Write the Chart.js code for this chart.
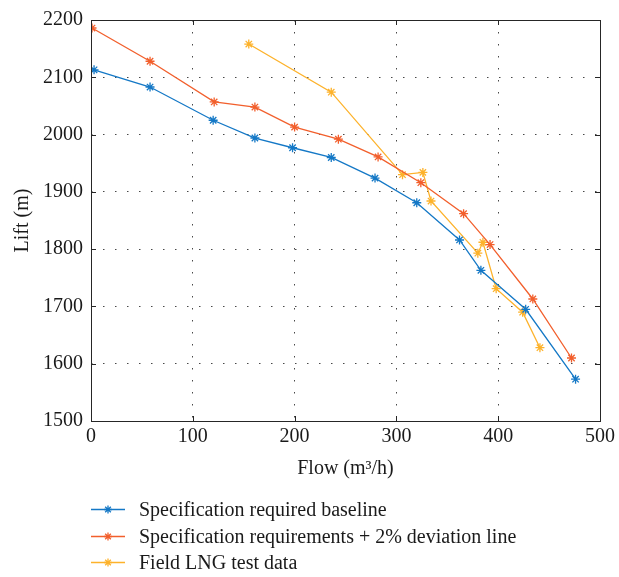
<!DOCTYPE html>
<html>
<head>
<meta charset="utf-8">
<script src="https://cdn.jsdelivr.net/npm/chart.js@4.4.1/dist/chart.umd.min.js"></script>
<style>
  html, body { margin: 0; padding: 0; background: #fff; }
  #c { display: block; }
</style>
</head>
<body>
<canvas id="c" width="619" height="577"></canvas>
<script>
// ---- data ----
const seriesNames = [
  "Specification required baseline",
  "Specification requirements + 2% deviation line",
  "Field LNG test data"
];
const flowBase = [3, 58, 120, 161, 198, 236, 279, 320, 362, 383, 427, 476];
const liftBase = [2113, 2083, 2025, 1994, 1977, 1960, 1924, 1881, 1816, 1763, 1695, 1573];
const flowDev = [1, 58, 121, 161, 200, 243, 282, 324, 366, 392, 434, 472];
const liftDev = [2186, 2128, 2057, 2048, 2013, 1992, 1961, 1916, 1862, 1808, 1713, 1610];
const flowField = [155, 236, 306, 326, 334, 380, 385, 398, 424, 441];
const liftField = [2158, 2074, 1930, 1934, 1884, 1793, 1812, 1731, 1690, 1628];
const xTicks = [0, 100, 200, 300, 400, 500];
const yTicks = [1500, 1600, 1700, 1800, 1900, 2000, 2100, 2200];
const colors = ["#1478c6", "#f25f2c", "#fdb22b"];

const FONT = "'Liberation Serif', 'DejaVu Serif', serif";
const FS = 20;
const toPts = (xs, ys) => xs.map((x, i) => ({ x: x, y: ys[i] }));

const boxPlugin = {
  id: 'boxPlugin',
  afterDraw(chart) {
    const { ctx, chartArea: a, scales } = chart;
    ctx.save();
    ctx.strokeStyle = '#262626';
    ctx.lineWidth = 1;
    ctx.strokeRect(Math.round(a.left) + 0.5, Math.round(a.top) + 0.5,
      Math.round(a.right - a.left), Math.round(a.bottom - a.top));
    const tl = 5;
    ctx.beginPath();
    xTicks.forEach(v => {
      const x = Math.round(scales.x.getPixelForValue(v)) + 0.5;
      ctx.moveTo(x, a.bottom); ctx.lineTo(x, a.bottom - tl);
      ctx.moveTo(x, a.top); ctx.lineTo(x, a.top + tl);
    });
    yTicks.forEach(v => {
      const y = Math.round(scales.y.getPixelForValue(v)) + 0.5;
      ctx.moveTo(a.left, y); ctx.lineTo(a.left + tl, y);
      ctx.moveTo(a.right, y); ctx.lineTo(a.right - tl, y);
    });
    ctx.stroke();

    // legend (vertical list below the axes)
    const rows = [509, 536, 562];
    chart.data.datasets.forEach((ds, i) => {
      const y = rows[i] + 0.5;
      ctx.strokeStyle = ds.borderColor;
      ctx.lineWidth = 1.3;
      ctx.beginPath();
      ctx.moveTo(91, y); ctx.lineTo(125, y);
      ctx.stroke();
      Chart.helpers.drawPoint(ctx, {
        pointStyle: 'star', radius: 4, borderWidth: 1.2, rotation: 0
      }, 108, y);
      ctx.fillStyle = '#1a1a1a';
      ctx.font = FS + "px " + FONT;
      ctx.textAlign = 'left';
      ctx.textBaseline = 'middle';
      ctx.fillText(ds.label, 139, y + 1);
    });
    ctx.restore();
  }
};

new Chart(document.getElementById('c'), {
  type: 'line',
  data: {
    datasets: [
      { label: seriesNames[0], data: toPts(flowBase, liftBase) },
      { label: seriesNames[1], data: toPts(flowDev, liftDev) },
      { label: seriesNames[2], data: toPts(flowField, liftField) }
    ].map((d, i) => Object.assign(d, {
      borderColor: colors[i],
      backgroundColor: colors[i],
      borderWidth: 1.3,
      pointStyle: 'star',
      pointRadius: 4.5,
      pointBorderWidth: 1.3,
      pointBorderColor: colors[i],
      tension: 0,
      fill: false
    }))
  },
  options: {
    responsive: false,
    devicePixelRatio: 1,
    animation: false,
    layout: { padding: { left: 0, top: 18, right: 16, bottom: 96 } },
    plugins: { legend: { display: false }, tooltip: { enabled: false } },
    scales: {
      x: {
        type: 'linear', min: 0, max: 500,
        afterBuildTicks: s => { s.ticks = xTicks.map(v => ({ value: v })); },
        afterFit: s => { s.height = 60; },
        ticks: { color: '#1a1a1a', font: { family: FONT, size: FS }, padding: 4, maxRotation: 0,
                 callback: v => String(v) },
        grid: { color: 'rgba(40,40,40,0.85)', lineWidth: 1, drawTicks: false },
        border: { display: false, dash: [1.5, 10.5] },
        title: { display: true, text: 'Flow (m³/h)', color: '#1a1a1a',
                 font: { family: FONT, size: FS }, padding: { top: 2, bottom: 0 } }
      },
      y: {
        type: 'linear', min: 1500, max: 2200,
        afterBuildTicks: s => { s.ticks = yTicks.map(v => ({ value: v })); },
        afterFit: s => { s.width = 91; },
        ticks: { color: '#1a1a1a', font: { family: FONT, size: FS }, padding: 8,
                 callback: v => String(v) },
        grid: { color: 'rgba(40,40,40,0.85)', lineWidth: 1, drawTicks: false },
        border: { display: false, dash: [1.5, 10.5] },
        title: { display: true, text: 'Lift (m)', color: '#1a1a1a',
                 font: { family: FONT, size: FS }, padding: { top: 11, bottom: 0 } }
      }
    }
  },
  plugins: [boxPlugin]
});
</script>
</body>
</html>
